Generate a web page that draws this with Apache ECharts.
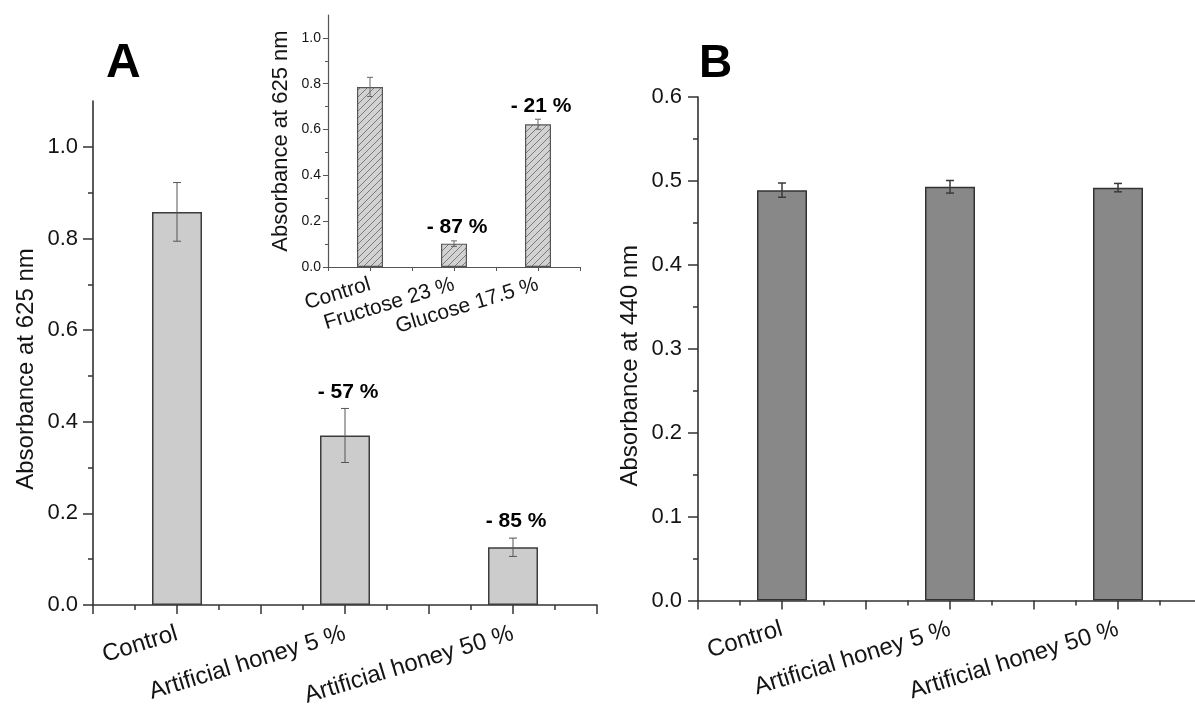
<!DOCTYPE html>
<html>
<head>
<meta charset="utf-8">
<title>Absorbance bar charts</title>
<script src="https://cdn.jsdelivr.net/npm/echarts@6/dist/echarts.min.js"></script>
<style>
  html, body { margin: 0; padding: 0; background: #ffffff; }
  #chart { width: 1195px; height: 705px; }
</style>
</head>
<body>
<div id="chart"></div>
<script>
// ---- Panel A: absorbance at 625 nm ----
const catsA = ['Control', 'Artificial honey 5 %', 'Artificial honey 50 %'];
const valsA = [0.858, 0.370, 0.126];
const errsA = [0.064, 0.059, 0.020];
const notesA = ['', '- 57 %', '- 85 %'];
const yTicksA = [0, 0.2, 0.4, 0.6, 0.8, 1.0];
const yMinorA = [0.1, 0.3, 0.5, 0.7, 0.9];

// ---- Inset of panel A: sugars ----
const catsIn = ['Control', 'Fructose 23 %', 'Glucose 17.5 %'];
const valsIn = [0.786, 0.102, 0.623];
const errsIn = [0.042, 0.012, 0.022];
const notesIn = ['', '- 87 %', '- 21 %'];
const yTicksIn = [0, 0.2, 0.4, 0.6, 0.8, 1.0];
const yMinorIn = [0.1, 0.3, 0.5, 0.7, 0.9];

// ---- Panel B: absorbance at 440 nm ----
const catsB = ['Control', 'Artificial honey 5 %', 'Artificial honey 50 %'];
const valsB = [0.489, 0.493, 0.492];
const errsB = [0.0085, 0.0075, 0.005];

const FONT = "'Liberation Sans', Arial, Helvetica, sans-serif";
const AXIS = '#333333';
const TEXT = '#141414';

// diagonal hatch used by the inset bars
function hatchPattern() {
  const s = 7;
  const c = document.createElement('canvas');
  c.width = s; c.height = s;
  const g = c.getContext('2d');
  g.fillStyle = '#d2d2d2';
  g.fillRect(0, 0, s, s);
  g.strokeStyle = '#7a7a7a';
  g.lineWidth = 1;
  g.beginPath();
  g.moveTo(-1, s + 1); g.lineTo(s + 1, -1);
  g.moveTo(-1, 1); g.lineTo(1, -1);
  g.moveTo(s - 1, s + 1); g.lineTo(s + 1, s - 1);
  g.stroke();
  return c;
}

// error bars (and optional note text above them) on a category axis
function errorSeries(xi, yi, vals, errs, notes, opt) {
  return {
    type: 'custom',
    xAxisIndex: xi,
    yAxisIndex: yi,
    z: 5,
    silent: true,
    data: vals.map((v, i) => [i, v, errs[i]]),
    renderItem: function (params, api) {
      const i = api.value(0), v = api.value(1), e = api.value(2);
      const top = api.coord([i, v + e]);
      const bot = api.coord([i, v - e]);
      const st = { stroke: opt.color, lineWidth: opt.lw };
      const h = opt.cap;
      const kids = [
        { type: 'line', shape: { x1: top[0], y1: top[1], x2: bot[0], y2: bot[1] }, style: st },
        { type: 'line', shape: { x1: top[0] - h, y1: top[1], x2: top[0] + h, y2: top[1] }, style: st },
        { type: 'line', shape: { x1: bot[0] - h, y1: bot[1], x2: bot[0] + h, y2: bot[1] }, style: st }
      ];
      const note = notes ? notes[params.dataIndex] : '';
      if (note) {
        kids.push({
          type: 'text',
          x: top[0] + 3,
          y: top[1] - opt.lift,
          style: {
            text: note,
            fill: '#000',
            font: 'bold 21px ' + FONT,
            align: 'center',
            verticalAlign: 'bottom'
          }
        });
      }
      return { type: 'group', children: kids };
    }
  };
}

function catAxis(gi, cats, fs, margin) {
  return {
    type: 'category', gridIndex: gi, data: cats, position: 'bottom',
    axisLine: { show: true, onZero: false, lineStyle: { color: AXIS, width: 1.6 } },
    axisTick: { show: false },
    axisLabel: { interval: 0, rotate: 17, margin: margin, fontSize: fs, fontFamily: FONT, color: TEXT },
    splitLine: { show: false }
  };
}

// value axis carrying the tick marks under the categories
function tickAxisX(gi, major, minor) {
  return {
    type: 'value', gridIndex: gi, position: 'bottom', min: 0.5, max: 3.5, interval: 0.5,
    axisLine: { show: false, onZero: false },
    axisTick: { show: true, length: major, lineStyle: { color: AXIS, width: 1.5 } },
    minorTick: { show: true, splitNumber: 2, length: minor, lineStyle: { color: AXIS, width: 1.5 } },
    axisLabel: { show: false },
    splitLine: { show: false }, minorSplitLine: { show: false }
  };
}

const chart = echarts.init(document.getElementById('chart'), null, { renderer: 'canvas' });

const option = {
  animation: false,
  backgroundColor: '#ffffff',
  textStyle: { fontFamily: FONT },
  grid: [
    { left: 93, top: 101, width: 504, height: 504, outerBoundsMode: 'none', containLabel: false },
    { left: 328, top: 15, width: 252, height: 252, outerBoundsMode: 'none', containLabel: false },
    { left: 698, top: 97, width: 504, height: 503.5, outerBoundsMode: 'none', containLabel: false }
  ],
  xAxis: [
    catAxis(0, catsA, 24, 28),
    tickAxisX(0, 9, 5),
    Object.assign(catAxis(1, catsIn, 21, 17), {
      axisLine: { show: true, onZero: false, lineStyle: { color: '#555', width: 1.2 } }
    }),
    {
      type: 'value', gridIndex: 1, position: 'bottom', min: 0.5, max: 3.5, interval: 0.5,
      axisLine: { show: false, onZero: false },
      axisTick: { show: true, length: 4, lineStyle: { color: '#555', width: 1 } },
      axisLabel: { show: false }, splitLine: { show: false }
    },
    catAxis(2, catsB, 24, 28),
    tickAxisX(2, 9, 5)
  ],
  yAxis: [
    {
      type: 'value', gridIndex: 0, position: 'left', min: 0, max: 1.1,
      name: 'Absorbance at 625 nm', nameLocation: 'middle', nameGap: 55,
      nameTextStyle: { fontSize: 24, fontFamily: FONT, color: TEXT, padding: [0, 32, 0, 0] },
      axisLine: { show: true, onZero: false, lineStyle: { color: AXIS, width: 1.6 } },
      axisTick: { show: true, length: 10, customValues: yTicksA, lineStyle: { color: AXIS, width: 1.5 } },
      axisLabel: { customValues: yTicksA, margin: 15, fontSize: 22, fontFamily: FONT, color: TEXT,
                   formatter: v => v.toFixed(1) },
      splitLine: { show: false }
    },
    {
      type: 'value', gridIndex: 0, position: 'left', min: 0, max: 1.1,
      axisLine: { show: false },
      axisTick: { show: true, length: 5, customValues: yMinorA, lineStyle: { color: AXIS, width: 1.5 } },
      axisLabel: { show: false }, splitLine: { show: false }
    },
    {
      type: 'value', gridIndex: 1, position: 'left', min: 0, max: 1.1,
      name: 'Absorbance at 625 nm', nameLocation: 'middle', nameGap: 36,
      nameTextStyle: { fontSize: 22, fontFamily: FONT, color: TEXT },
      axisLine: { show: true, onZero: false, lineStyle: { color: '#555', width: 1.2 } },
      axisTick: { show: true, length: 5, customValues: yTicksIn, lineStyle: { color: '#555', width: 1 } },
      axisLabel: { customValues: yTicksIn, margin: 7, fontSize: 14, fontFamily: FONT, color: TEXT,
                   formatter: v => v.toFixed(1) },
      splitLine: { show: false }
    },
    {
      type: 'value', gridIndex: 1, position: 'left', min: 0, max: 1.1,
      axisLine: { show: false },
      axisTick: { show: true, length: 3, customValues: yMinorIn, lineStyle: { color: '#555', width: 1 } },
      axisLabel: { show: false }, splitLine: { show: false }
    },
    {
      type: 'value', gridIndex: 2, position: 'left', min: 0, max: 0.6, interval: 0.1,
      name: 'Absorbance at 440 nm', nameLocation: 'middle', nameGap: 56,
      nameTextStyle: { fontSize: 24, fontFamily: FONT, color: TEXT, padding: [0, 34, 0, 0] },
      axisLine: { show: true, onZero: false, lineStyle: { color: AXIS, width: 1.6 } },
      axisTick: { show: true, length: 10, lineStyle: { color: AXIS, width: 1.5 } },
      minorTick: { show: true, splitNumber: 2, length: 5, lineStyle: { color: AXIS, width: 1.5 } },
      axisLabel: { margin: 16, fontSize: 22, fontFamily: FONT, color: TEXT, formatter: v => v.toFixed(1) },
      splitLine: { show: false }, minorSplitLine: { show: false }
    }
  ],
  graphic: [
    { type: 'text', left: 106, top: 40, style: { text: 'A', font: 'bold 48px ' + FONT, fill: '#000' } },
    { type: 'text', left: 699, top: 41, style: { text: 'B', font: 'bold 46px ' + FONT, fill: '#000' } }
  ],
  series: [
    {
      type: 'bar', xAxisIndex: 0, yAxisIndex: 0, data: valsA, barWidth: 50, z: 2,
      itemStyle: { color: '#cccccc', borderColor: '#3c3c3c', borderWidth: 1.5 }
    },
    errorSeries(0, 0, valsA, errsA, notesA, { color: '#555555', lw: 1, cap: 4, lift: 6 }),
    {
      type: 'bar', xAxisIndex: 2, yAxisIndex: 2, data: valsIn, barWidth: 26, z: 2,
      itemStyle: { color: { image: hatchPattern(), repeat: 'repeat' }, borderColor: '#555555', borderWidth: 1.2 }
    },
    errorSeries(2, 2, valsIn, errsIn, notesIn, { color: '#666666', lw: 1, cap: 3, lift: 3 }),
    {
      type: 'bar', xAxisIndex: 4, yAxisIndex: 4, data: valsB, barWidth: 50, z: 2,
      itemStyle: { color: '#888888', borderColor: '#333333', borderWidth: 1.5 }
    },
    errorSeries(4, 4, valsB, errsB, null, { color: '#3a3a3a', lw: 1.5, cap: 4, lift: 0 })
  ]
};

chart.setOption(option);
</script>
</body>
</html>
